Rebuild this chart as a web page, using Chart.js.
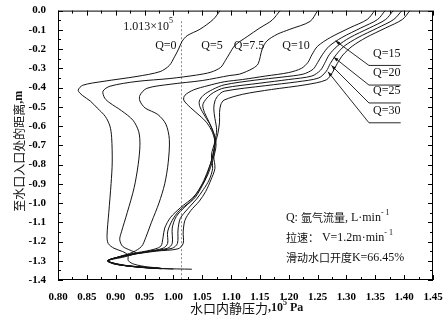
<!DOCTYPE html>
<html><head><meta charset="utf-8">
<script src="https://cdn.jsdelivr.net/npm/chart.js@4.4.0/dist/chart.umd.min.js"></script>
<style>html,body{margin:0;padding:0;background:#fff;}canvas{display:block;}</style>
</head><body>
<canvas id="c" width="448" height="320"></canvas>
<script>
// ---------- DATA (pressure in 10^5 Pa, distance in m) ----------
const seriesNames = ['Q=0','Q=5','Q=7.5','Q=10','Q=15','Q=20','Q=25','Q=30'];
const q0 = [[1.081,0],[1.069,-0.046],[1.046,-0.097],[1.024,-0.13],[1.015,-0.16],[1.009,-0.20],[1.002,-0.24],[0.993,-0.285],[0.977,-0.317],[0.937,-0.342],[0.878,-0.368],[0.843,-0.388],[0.835,-0.414],[0.842,-0.44],[0.856,-0.47],[0.868,-0.506],[0.882,-0.55],[0.89,-0.60],[0.893,-0.66],[0.894,-0.787],[0.892,-0.9],[0.888,-1.05],[0.885,-1.17],[0.887,-1.21],[0.897,-1.235],[0.912,-1.252],[0.921,-1.27],[0.922,-1.30],[0.932,-1.318],[0.955,-1.332],[0.978,-1.338]];
const q5 = [[1.185,0],[1.171,-0.05],[1.15,-0.09],[1.128,-0.135],[1.107,-0.18],[1.097,-0.225],[1.09,-0.26],[1.082,-0.295],[1.065,-0.32],[1.04,-0.335],[0.994,-0.353],[0.937,-0.368],[0.89,-0.393],[0.878,-0.419],[0.881,-0.455],[0.89,-0.48],[0.91,-0.52],[0.93,-0.57],[0.94,-0.63],[0.942,-0.70],[0.939,-0.80],[0.932,-0.92],[0.92,-1.05],[0.91,-1.15],[0.907,-1.19],[0.912,-1.225],[0.925,-1.245],[0.935,-1.26],[0.915,-1.28],[0.887,-1.30],[0.91,-1.322],[0.945,-1.335],[0.975,-1.34]];
const q75 = [[1.25,0],[1.237,-0.056],[1.202,-0.097],[1.18,-0.123],[1.162,-0.158],[1.154,-0.199],[1.147,-0.276],[1.138,-0.30],[1.115,-0.33],[1.098,-0.337],[1.051,-0.363],[0.994,-0.383],[0.954,-0.404],[0.942,-0.44],[0.942,-0.47],[0.951,-0.506],[0.973,-0.54],[0.987,-0.59],[0.993,-0.67],[0.991,-0.79],[0.985,-0.9],[0.975,-1.0],[0.962,-1.1],[0.952,-1.18],[0.945,-1.225],[0.93,-1.255],[0.905,-1.28],[0.887,-1.30],[0.90,-1.318],[0.935,-1.33],[0.975,-1.338]];
const q10 = [[1.349,0],[1.336,-0.046],[1.306,-0.089],[1.272,-0.14],[1.25,-0.185],[1.24,-0.23],[1.233,-0.27],[1.222,-0.30],[1.20,-0.322],[1.16,-0.34],[1.12,-0.358],[1.088,-0.37],[1.06,-0.39],[1.035,-0.412],[1.02,-0.44],[1.018,-0.465],[1.03,-0.505],[1.046,-0.547],[1.058,-0.583],[1.068,-0.635],[1.072,-0.69],[1.067,-0.77],[1.06,-0.83],[1.05,-0.9],[1.036,-0.965],[1.012,-1.025],[0.995,-1.075],[0.985,-1.13],[0.982,-1.18],[0.978,-1.225],[0.96,-1.245],[0.93,-1.262],[0.905,-1.28],[0.886,-1.30],[0.895,-1.315],[0.925,-1.328],[0.965,-1.337]];
const q15 = [[1.367,0],[1.354,-0.046],[1.325,-0.09],[1.292,-0.14],[1.27,-0.185],[1.258,-0.23],[1.25,-0.27],[1.242,-0.305],[1.225,-0.33],[1.19,-0.345],[1.14,-0.362],[1.088,-0.386],[1.068,-0.41],[1.052,-0.44],[1.045,-0.47],[1.046,-0.50],[1.055,-0.55],[1.065,-0.60],[1.072,-0.66],[1.07,-0.73],[1.064,-0.80],[1.056,-0.87],[1.045,-0.93],[1.03,-0.99],[1.01,-1.04],[0.998,-1.09],[0.99,-1.15],[0.99,-1.21],[0.982,-1.235],[0.955,-1.252],[0.92,-1.272],[0.887,-1.30],[0.90,-1.318],[0.93,-1.33],[0.972,-1.34]];
const q20 = [[1.381,0],[1.368,-0.046],[1.34,-0.09],[1.306,-0.14],[1.284,-0.185],[1.27,-0.23],[1.262,-0.275],[1.255,-0.31],[1.24,-0.34],[1.2,-0.358],[1.15,-0.377],[1.088,-0.402],[1.07,-0.425],[1.058,-0.455],[1.051,-0.49],[1.054,-0.53],[1.062,-0.58],[1.07,-0.64],[1.074,-0.70],[1.068,-0.78],[1.06,-0.85],[1.05,-0.91],[1.038,-0.97],[1.02,-1.02],[1.005,-1.07],[0.998,-1.13],[0.998,-1.21],[0.99,-1.235],[0.96,-1.25],[0.92,-1.27],[0.886,-1.30],[0.905,-1.32],[0.94,-1.333],[0.98,-1.342]];
const q25 = [[1.396,0],[1.382,-0.046],[1.354,-0.09],[1.32,-0.14],[1.296,-0.185],[1.282,-0.23],[1.272,-0.275],[1.265,-0.315],[1.252,-0.35],[1.215,-0.37],[1.16,-0.39],[1.088,-0.419],[1.078,-0.44],[1.072,-0.47],[1.07,-0.51],[1.072,-0.56],[1.075,-0.62],[1.072,-0.68],[1.066,-0.75],[1.068,-0.82],[1.062,-0.88],[1.052,-0.93],[1.04,-0.98],[1.025,-1.03],[1.012,-1.08],[1.008,-1.14],[1.007,-1.21],[0.998,-1.235],[0.96,-1.252],[0.92,-1.272],[0.886,-1.30],[0.91,-1.322],[0.96,-1.338],[1.0,-1.343]];
const q30 = [[1.41,0],[1.397,-0.046],[1.368,-0.09],[1.334,-0.14],[1.31,-0.185],[1.294,-0.23],[1.284,-0.275],[1.276,-0.32],[1.265,-0.36],[1.23,-0.385],[1.17,-0.41],[1.12,-0.435],[1.088,-0.465],[1.082,-0.49],[1.08,-0.53],[1.08,-0.58],[1.077,-0.64],[1.072,-0.70],[1.07,-0.76],[1.072,-0.82],[1.065,-0.88],[1.056,-0.94],[1.045,-0.99],[1.03,-1.04],[1.02,-1.09],[1.017,-1.15],[1.017,-1.21],[1.008,-1.238],[0.97,-1.25],[0.925,-1.27],[0.886,-1.30],[0.92,-1.325],[0.98,-1.34],[1.032,-1.344]];
const seriesData = [q0,q5,q75,q10,q15,q20,q25,q30];
const refPressure = 1.013;   // 1.013×10^5 Pa
const xMin = 0.80, xMax = 1.45, xStep = 0.05;
const yMin = -1.4, yMax = 0.0, yStep = 0.1;

// ---------- annotation layout (data coordinates) ----------
const topLabels = [
  {t:'Q=0', x:0.987, y:-0.184},
  {t:'Q=5', x:1.067, y:-0.184},
  {t:'Q=7.5', x:1.131, y:-0.184},
  {t:'Q=10', x:1.2125, y:-0.184}
];
const leaderLabels = [
  {t:'Q=15', tip:[1.281,-0.157], elbow:[1.339,-0.285], end:1.394},
  {t:'Q=20', tip:[1.278,-0.242], elbow:[1.339,-0.387], end:1.394},
  {t:'Q=25', tip:[1.274,-0.285], elbow:[1.339,-0.48], end:1.394},
  {t:'Q=30', tip:[1.268,-0.318], elbow:[1.339,-0.583], end:1.394}
];
const refLabelPos = {x:0.913, y:-0.082};
const noteLeft = 1.195, noteYs = [-1.075, -1.18, -1.285];

const SERIF = '"Liberation Serif","DejaVu Serif",serif';
const CJK = '"Noto Sans CJK SC","Noto Sans CJK JP",sans-serif';

function runsWidth(ctx, runs){
  let w=0; for(const r of runs){ctx.font=r.f; w+=ctx.measureText(r.t).width;} return w;
}
function drawRuns(ctx, x, y, runs){
  ctx.textBaseline='middle'; ctx.textAlign='left';
  for(const r of runs){ ctx.font=r.f; ctx.fillText(r.t, x, y+(r.dy||0)); x+=ctx.measureText(r.t).width; }
}

const decor = {
  id:'decor',
  beforeDatasetsDraw(chart){
    const {ctx, scales:{x,y}} = chart;
    ctx.save();
    ctx.strokeStyle='#8a8a8a'; ctx.lineWidth=1; ctx.setLineDash([2,2]);
    const px=Math.round(x.getPixelForValue(refPressure))+0.5;
    ctx.beginPath(); ctx.moveTo(px, y.getPixelForValue(-0.055)); ctx.lineTo(px, y.getPixelForValue(yMin)); ctx.stroke();
    ctx.restore();
  },
  afterDraw(chart){
    const {ctx, chartArea:a, scales:{x,y}} = chart;
    ctx.save();
    ctx.strokeStyle='#000'; ctx.lineWidth=1; ctx.setLineDash([]);
    ctx.strokeRect(a.left+0.5, a.top+0.5, a.right-a.left-1, a.bottom-a.top-1);
    ctx.beginPath();
    const nx = Math.round((xMax-xMin)/(xStep/2));
    for(let i=0;i<=nx;i++){
      const v = xMin + i*xStep/2; const p=Math.round(x.getPixelForValue(v))+0.5; const len = i%2?3:5;
      ctx.moveTo(p,a.bottom); ctx.lineTo(p,a.bottom-len);
      ctx.moveTo(p,a.top); ctx.lineTo(p,a.top+len);
    }
    const ny = Math.round((yMax-yMin)/(yStep/2));
    for(let i=0;i<=ny;i++){
      const v = yMax - i*yStep/2; const p=Math.round(y.getPixelForValue(v))+0.5; const len = i%2?3:5;
      ctx.moveTo(a.left,p); ctx.lineTo(a.left+len,p);
      ctx.moveTo(a.right,p); ctx.lineTo(a.right-len,p);
    }
    ctx.stroke();

    ctx.fillStyle='#111';
    drawRuns(ctx, x.getPixelForValue(refLabelPos.x), y.getPixelForValue(refLabelPos.y), [
      {t:'1.013×10', f:'12px '+SERIF}, {t:'5', f:'8px '+SERIF, dy:-5}
    ]);
    ctx.font='12px '+SERIF; ctx.textAlign='center'; ctx.textBaseline='middle';
    for(const l of topLabels){ ctx.fillText(l.t, x.getPixelForValue(l.x), y.getPixelForValue(l.y)); }
    ctx.strokeStyle='#111'; ctx.lineWidth=0.9;
    for(const l of leaderLabels){
      const tx=x.getPixelForValue(l.tip[0]), ty=y.getPixelForValue(l.tip[1]);
      const ex=x.getPixelForValue(l.elbow[0]), ey=y.getPixelForValue(l.elbow[1]);
      const rx=x.getPixelForValue(l.end);
      ctx.beginPath(); ctx.moveTo(tx,ty); ctx.lineTo(ex,ey); ctx.lineTo(rx,ey); ctx.stroke();
      const ang=Math.atan2(ty-ey, tx-ex), L=5, W=0.35;
      ctx.beginPath(); ctx.moveTo(tx,ty);
      ctx.lineTo(tx-L*Math.cos(ang-W), ty-L*Math.sin(ang-W));
      ctx.lineTo(tx-L*Math.cos(ang+W), ty-L*Math.sin(ang+W));
      ctx.closePath(); ctx.fill();
      ctx.font='12px '+SERIF; ctx.textAlign='center'; ctx.textBaseline='middle';
      ctx.fillText(l.t, (ex+rx)/2+2, ey-12);
    }
    const nl = x.getPixelForValue(noteLeft);
    drawRuns(ctx, nl, y.getPixelForValue(noteYs[0]), [
      {t:'Q: ', f:'12px '+SERIF},{t:'氩气流量', f:'11px '+CJK},{t:', L·min', f:'12px '+SERIF},{t:'- 1', f:'8px '+SERIF, dy:-5}]);
    drawRuns(ctx, nl, y.getPixelForValue(noteYs[1]), [
      {t:'拉速：', f:'11px '+CJK},{t:' V=1.2m·min', f:'12px '+SERIF},{t:'- 1', f:'8px '+SERIF, dy:-5}]);
    drawRuns(ctx, nl, y.getPixelForValue(noteYs[2]), [
      {t:'滑动水口开度', f:'11px '+CJK},{t:'K=66.45%', f:'12px '+SERIF}]);
    drawRuns(ctx, 190, 308, [
      {t:'水口内静压力', f:'13px '+CJK},{t:',10', f:'bold 12px '+SERIF},{t:'5', f:'bold 8px '+SERIF, dy:-5},{t:' Pa', f:'bold 12px '+SERIF}]);
    const yRuns=[{t:'至水口入口处的距离', f:'12px '+CJK},{t:',m', f:'bold 12px '+SERIF}];
    ctx.save(); ctx.translate(19, (a.top+a.bottom)/2+6); ctx.rotate(-Math.PI/2);
    drawRuns(ctx, -runsWidth(ctx,yRuns)/2, 0, yRuns);
    ctx.restore();
    ctx.restore();
  }
};

new Chart(document.getElementById('c'), {
  type:'scatter',
  data:{ datasets: seriesData.map((d,i)=>({
    label: seriesNames[i],
    data: d.map(p=>({x:p[0], y:p[1]})),
    showLine:true, borderColor:'#141414', borderWidth:1, pointRadius:0, tension:0.3, fill:false
  }))},
  options:{
    responsive:false, animation:false, devicePixelRatio:1,
    layout:{padding:{left:0,right:15,top:6,bottom:0}},
    plugins:{legend:{display:false}, tooltip:{enabled:false}},
    scales:{
      x:{type:'linear', min:xMin, max:xMax,
        afterFit(s){s.height=40;},
        afterBuildTicks(s){ const t=[]; for(let i=0;i<=Math.round((xMax-xMin)/xStep);i++) t.push({value:+(xMin+i*xStep).toFixed(2)}); s.ticks=t; },
        grid:{display:false}, border:{display:false},
        ticks:{padding:3, color:'#000', font:{family:SERIF, size:11, weight:'bold'}, maxRotation:0, autoSkip:false,
          callback:v=>Number(v).toFixed(2)}},
      y:{type:'linear', min:yMin, max:yMax,
        afterFit(s){s.width=58;},
        afterBuildTicks(s){ const t=[]; for(let i=0;i<=Math.round((yMax-yMin)/yStep);i++) t.push({value:+(yMax-i*yStep).toFixed(1)}); s.ticks=t; },
        grid:{display:false}, border:{display:false},
        ticks:{padding:4, color:'#000', font:{family:SERIF, size:11, weight:'bold'}, autoSkip:false,
          callback:v=>{const s=Number(v).toFixed(1); return s==='-0.0'?'0.0':s;}}}
    }
  },
  plugins:[decor]
});
</script>
</body></html>
